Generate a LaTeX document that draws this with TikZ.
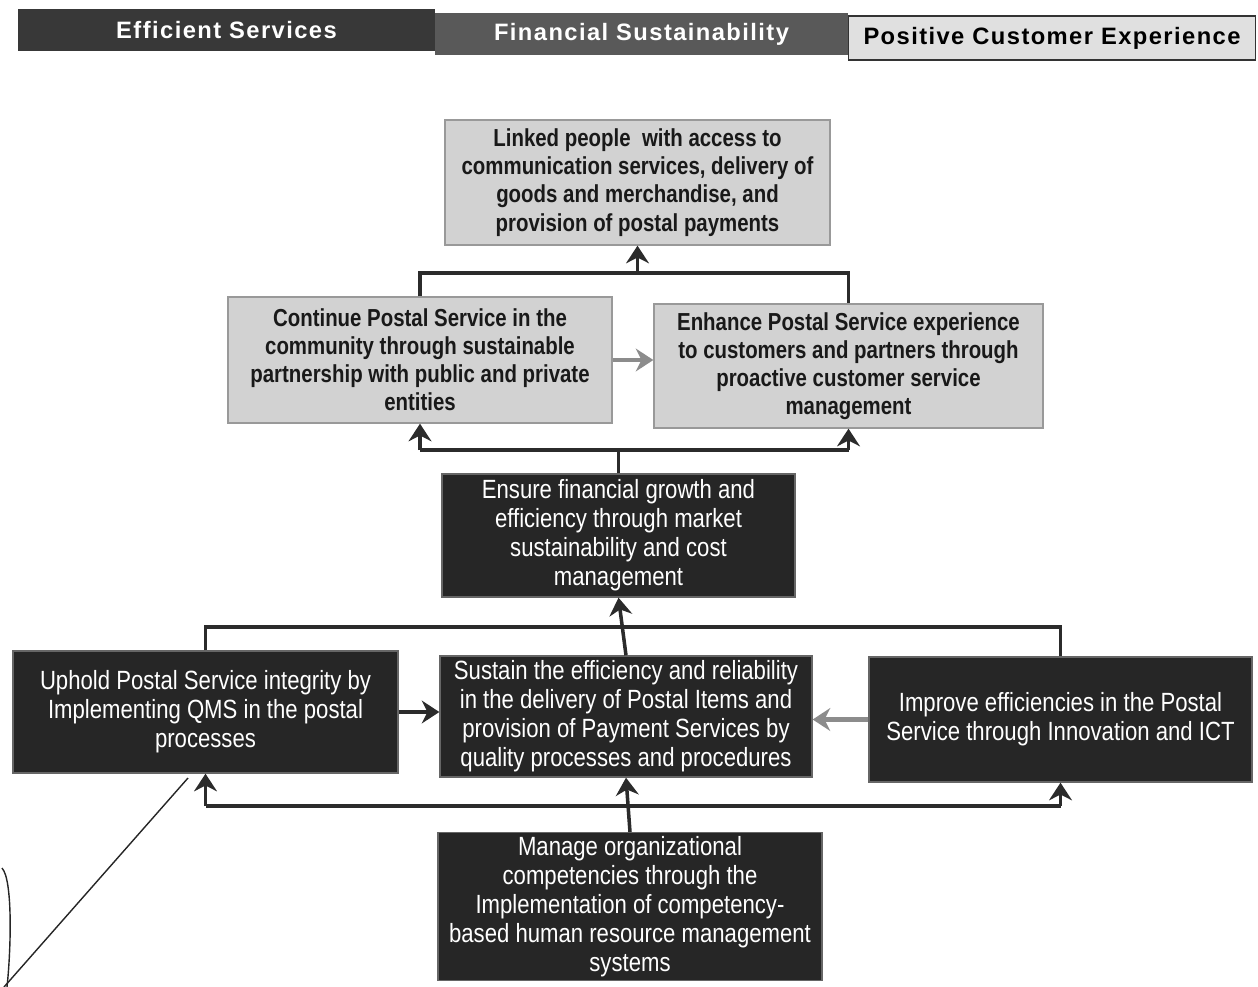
\documentclass[tikz,border=0pt]{standalone}
\usepackage{fontspec}
\setmainfont{Liberation Sans}
\newfontfamily\litefont[FakeStretch=0.83]{Liberation Sans}
\newfontfamily\narrowfont[FakeStretch=0.84]{Liberation Sans}
\newfontfamily\hdrfont[LetterSpace=6]{Liberation Sans}
\usetikzlibrary{arrows.meta, positioning}

\definecolor{darkfill}{HTML}{262626}
\definecolor{litefill}{HTML}{D2D2D2}
\definecolor{linecol}{HTML}{2B2B2B}
\definecolor{grayarrow}{HTML}{8C8C8C}

\begin{document}
\begin{tikzpicture}[x=0.02cm, y=-0.02cm, line width=2pt,
    litebox/.style={draw=gray!80, line width=0.8pt, fill=litefill, align=center, text=black!90,
      inner sep=2pt, font=\fontsize{14}{16}\selectfont\litefont\bfseries},
    darkbox/.style={draw=black!60, line width=0.8pt, fill=darkfill, align=center, text=white,
      inner sep=2pt, font=\fontsize{15}{16.5}\selectfont\narrowfont},
    hdr/.style={inner sep=0pt, font=\fontsize{13.5}{15}\selectfont\hdrfont\bfseries},
    arr/.style={draw=linecol, -{Stealth[length=10pt, width=13pt]}},
    grayarr/.style={draw=grayarrow, line width=2.5pt, -{Stealth[length=10pt, width=13pt]}}]
  \useasboundingbox (0,0) rectangle (1258,987);

  % header bar
  \node[hdr, fill=black!78, text=white, minimum width=8.34cm, minimum height=0.84cm] (hdrA) at (226.5,30) {Efficient Services};
  \node[hdr, fill=black!65, text=white, minimum width=8.26cm, minimum height=0.86cm] (hdrB) at (641.5,34) {Financial Sustainability};
  \node[hdr, fill=black!12, draw=black!80, line width=1pt, text=black, minimum width=8.14cm, minimum height=0.88cm] (hdrC) at (1052,38) {Positive Customer Experience};

  % boxes
  \node[litebox, minimum width=7.7cm, minimum height=2.5cm] (linked) at (637.5,182.5)
    {Linked people\ \ with access to\\ communication services, delivery of\\ goods and merchandise, and\\ provision of postal payments};
  \node[litebox, minimum width=7.68cm, minimum height=2.52cm] (cont) at (420,360)
    {Continue Postal Service in the\\ community through sustainable\\ partnership with public and private\\ entities};
  \node[litebox, minimum width=7.78cm, minimum height=2.48cm] (enh) at (848.5,366)
    {Enhance Postal Service experience\\ to customers and partners through\\ proactive customer service\\ management};
  \node[darkbox, minimum width=7.06cm, minimum height=2.46cm] (ensure) at (618.5,535.5)
    {Ensure financial growth and\\ efficiency through market\\ sustainability and cost\\ management};
  \node[darkbox, minimum width=7.7cm, minimum height=2.44cm] (uphold) at (205.5,712)
    {Uphold Postal Service integrity by\\ Implementing QMS in the postal\\ processes};
  \node[darkbox, minimum width=7.44cm, minimum height=2.42cm] (sustain) at (626,716.5)
    {Sustain the efficiency and reliability\\ in the delivery of Postal Items and\\ provision of Payment Services by\\ quality processes and procedures};
  \node[darkbox, minimum width=7.66cm, minimum height=2.5cm] (improve) at (1060.5,719.5)
    {Improve efficiencies in the Postal\\ Service through Innovation and ICT};
  \node[darkbox, minimum width=7.68cm, minimum height=2.82cm] (manage) at (630,906.5)
    {Manage organizational\\ competencies through the\\ Implementation of competency-\\ based human resource management\\ systems};

  \coordinate (topbar) at (0,273);
  \coordinate (midbar) at (0,450);
  \coordinate (lowbar) at (0,627);
  \coordinate (botbar) at (0,806);

  % connectors
  \draw[linecol] (cont.north) -- (cont.north |- topbar) -- (enh.north |- topbar) -- (enh.north);
  \draw[arr] (linked.south |- topbar) -- (linked.south);
  \draw[grayarr] (cont.east) -- (cont.east -| enh.west);

  \draw[linecol] (ensure.north) -- (ensure.north |- midbar);
  \draw[linecol] (cont.south |- midbar) -- (enh.south |- midbar);
  \draw[arr] (cont.south |- midbar) -- (cont.south);
  \draw[arr] (enh.south |- midbar) -- (enh.south);

  \draw[linecol] (uphold.north) -- (uphold.north |- lowbar) -- (improve.north |- lowbar) -- (improve.north);
  \draw[arr] (sustain.north) -- (ensure.south);
  \draw[arr] (uphold.east) -- (uphold.east -| sustain.west);
  \draw[grayarr] (improve.west) -- (improve.west -| sustain.east);

  \draw[linecol] (uphold.south |- botbar) -- (improve.south |- botbar);
  \draw[arr] (uphold.south |- botbar) -- (uphold.south);
  \draw[arr] (improve.south |- botbar) -- (improve.south);
  \draw[arr] (manage.north) -- (sustain.south);

  % pen marks
  \draw[line width=0.8pt, black!85] (188,778) -- (4,987);
  \draw[line width=0.8pt, black!85] (2,868) .. controls (13,880) and (11,950) .. (7,987);
\end{tikzpicture}
\end{document}
